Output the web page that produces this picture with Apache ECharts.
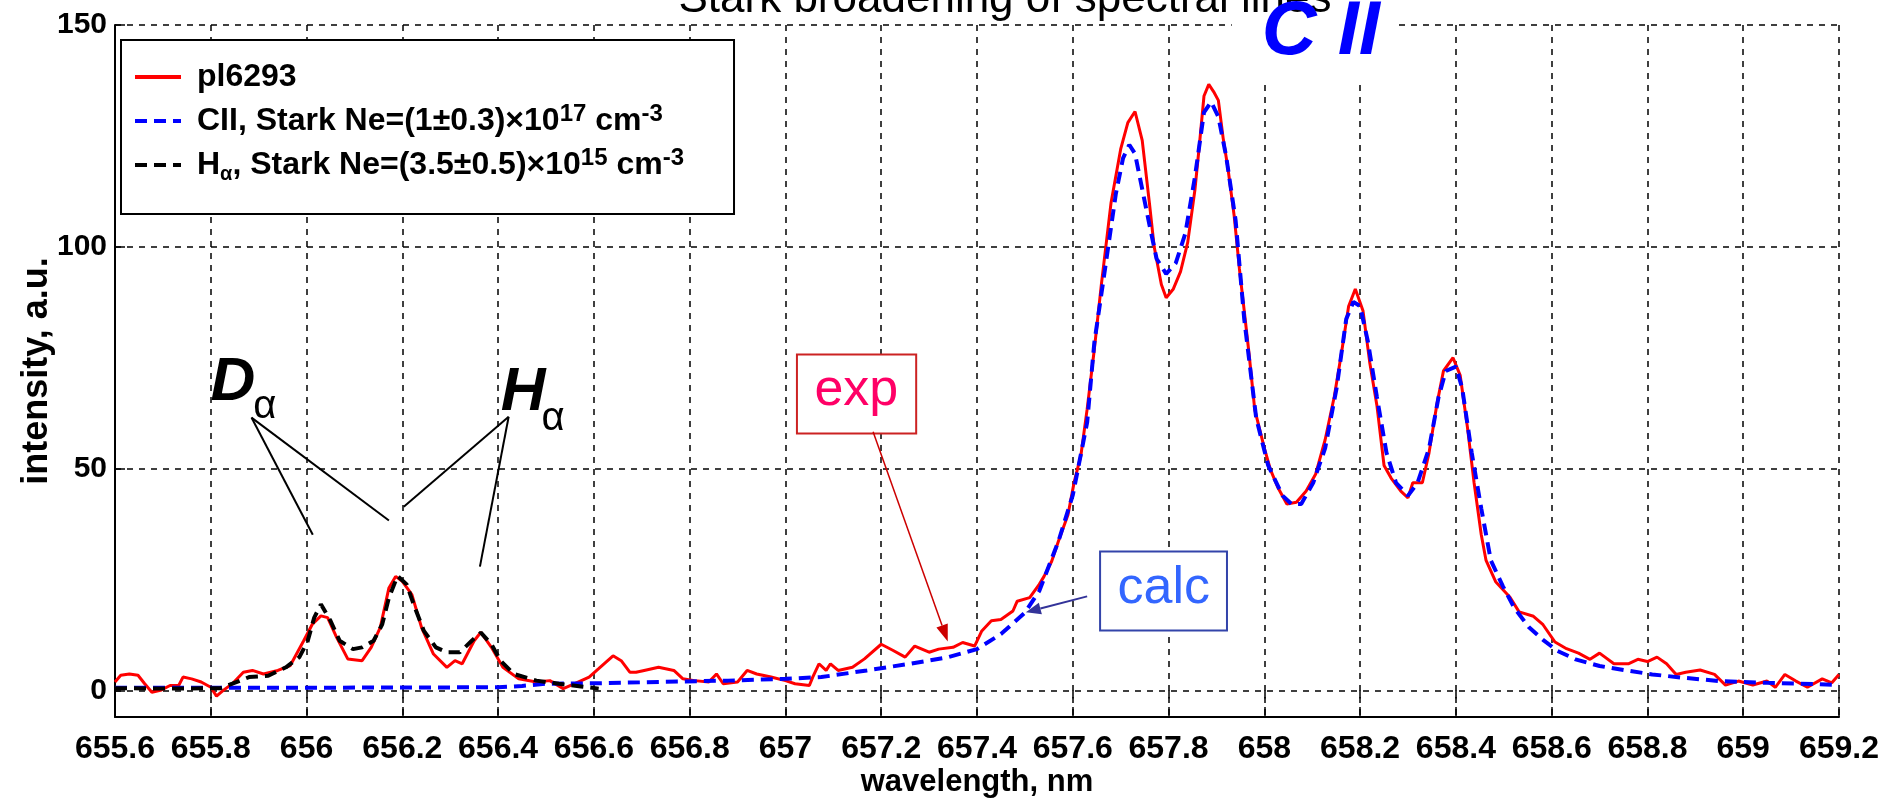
<!DOCTYPE html>
<html>
<head>
<meta charset="utf-8">
<title>Stark broadening of spectral lines</title>
<script src="https://cdn.jsdelivr.net/npm/echarts@6.0.0/dist/echarts.min.js"></script>
<style>
    html, body { margin: 0; padding: 0; background: #fff; }
    #main { width: 1892px; height: 801px; }
</style>
</head>
<body>
<div id="main"></div>
<script type="text/javascript">

    // experimental spectrum pl6293 (red)
    var expWl = [655.600, 655.612, 655.630, 655.648, 655.662, 655.677, 655.695, 655.715, 655.733, 655.742,
        655.760, 655.780, 655.800, 655.812, 655.826, 655.845, 655.868, 655.887, 655.910, 655.940,
        655.966, 655.994, 656.012, 656.030, 656.044, 656.063, 656.086, 656.116, 656.135, 656.154,
        656.172, 656.186, 656.200, 656.220, 656.240, 656.265, 656.293, 656.310, 656.325, 656.350,
        656.364, 656.386, 656.410, 656.443, 656.480, 656.508, 656.536, 656.560, 656.590, 656.610,
        656.640, 656.657, 656.675, 656.688, 656.705, 656.735, 656.767, 656.786, 656.810, 656.840,
        656.856, 656.870, 656.900, 656.920, 656.940, 656.970, 657.000, 657.020, 657.050, 657.057,
        657.070, 657.085, 657.094, 657.110, 657.140, 657.165, 657.200, 657.225, 657.250, 657.270,
        657.300, 657.320, 657.350, 657.370, 657.395, 657.410, 657.430, 657.450, 657.475, 657.484,
        657.510, 657.530, 657.540, 657.556, 657.570, 657.590, 657.603, 657.617, 657.630, 657.645,
        657.660, 657.680, 657.700, 657.715, 657.730, 657.745, 657.760, 657.770, 657.785, 657.795,
        657.810, 657.825, 657.840, 657.855, 657.864, 657.874, 657.884, 657.894, 657.904, 657.914,
        657.924, 657.937, 657.948, 657.958, 657.968, 657.980, 658.000, 658.013, 658.028, 658.047,
        658.067, 658.087, 658.107, 658.127, 658.146, 658.161, 658.176, 658.190, 658.206, 658.220,
        658.235, 658.250, 658.265, 658.285, 658.300, 658.310, 658.330, 658.344, 658.360, 658.374,
        658.394, 658.409, 658.424, 658.438, 658.453, 658.463, 658.483, 658.513, 658.532, 658.562,
        658.582, 658.607, 658.631, 658.656, 658.680, 658.700, 658.730, 658.760, 658.780, 658.800,
        658.820, 658.840, 658.860, 658.880, 658.910, 658.940, 658.963, 658.990, 659.020, 659.050,
        659.067, 659.087, 659.110, 659.134, 659.165, 659.185, 659.200];
    var expVal = [1.9, 3.4, 3.7, 3.4, 1.5, -0.4, 0.0, 1.1, 1.1, 3.0,
        2.6, 1.9, 0.7, -1.3, 0.0, 1.5, 4.1, 4.5, 3.7, 4.5,
        5.6, 11.2, 14.9, 16.8, 16.4, 11.9, 7.1, 6.7, 9.7, 14.2,
        23.1, 25.7, 24.6, 21.6, 14.2, 8.2, 5.2, 6.7, 6.0, 11.2,
        13.1, 9.7, 5.2, 2.6, 1.9, 2.2, 0.4, 1.5, 3.0, 4.9,
        7.8, 6.7, 4.1, 4.1, 4.5, 5.2, 4.5, 2.6, 2.2, 1.9,
        3.7, 1.5, 1.9, 4.5, 3.7, 3.0, 2.2, 1.5, 1.1, 3.0,
        6.0, 4.5, 6.0, 4.5, 5.2, 7.1, 10.4, 9.0, 7.5, 10.0,
        8.6, 9.3, 9.7, 10.8, 10.0, 13.4, 15.7, 16.0, 17.9, 20.1,
        20.9, 23.9, 25.7, 29.1, 33.6, 39.6, 47.0, 53.0, 63.4, 76.9,
        91.8, 110, 122, 128, 130.5, 124, 109.9, 100, 91.5, 88.5,
        90.5, 94.4, 101, 112.8, 122.5, 134, 136.6, 135, 133, 124.5,
        117.7, 107, 95, 85.6, 76, 63.3, 54.6, 49.7, 45.8, 42,
        42.4, 44.9, 48.7, 56.5, 66.2, 76, 86.6, 90.5, 85.6, 74,
        64.3, 50.7, 47.8, 44.9, 43.4, 46.8, 46.8, 53.6, 64.3, 72,
        75, 71, 59.4, 46.8, 35.1, 29.3, 24.5, 21, 17.7, 16.7,
        14.8, 10.9, 9.4, 8.4, 7.0, 8.4, 6.0, 6.0, 7.0, 6.5,
        7.5, 6.0, 3.6, 4.1, 4.6, 3.6, 1.2, 2.1, 1.2, 2.1,
        0.7, 3.6, 2.1, 0.7, 2.6, 1.7, 3.6];

    // CII Stark calculation (blue dashed)
    var ciiWl = [655.600, 656.000, 656.400, 656.450, 656.500, 656.600, 656.740, 656.880, 657.000, 657.075,
        657.170, 657.260, 657.340, 657.400, 657.450, 657.500, 657.530, 657.570, 657.600, 657.630,
        657.645, 657.668, 657.690, 657.705, 657.718, 657.730, 657.745, 657.760, 657.775, 657.795,
        657.815, 657.835, 657.855, 657.874, 657.889, 657.904, 657.920, 657.940, 657.958, 657.983,
        658.008, 658.038, 658.057, 658.077, 658.102, 658.127, 658.151, 658.171, 658.186, 658.200,
        658.216, 658.235, 658.255, 658.275, 658.300, 658.320, 658.344, 658.364, 658.379, 658.400,
        658.413, 658.433, 658.453, 658.473, 658.498, 658.522, 658.552, 658.582, 658.612, 658.650,
        658.700, 658.750, 658.810, 658.870, 658.950, 659.050, 659.150, 659.200];
    var ciiVal = [0.6, 0.6, 0.7, 1.0, 1.5, 1.6, 1.9, 2.2, 2.6, 3.0,
        4.5, 6.0, 7.5, 9.3, 12.7, 17.5, 22.4, 33.6, 44, 60.4,
        78.4, 95.5, 112, 120, 123, 121, 113, 105, 97.3, 93.9,
        96.3, 103, 115.7, 130.3, 132.7, 129.3, 120.6, 106, 83.7, 61.4,
        50.7, 43.9, 42, 42, 46.8, 54.6, 68.2, 83.7, 87.6, 86.6,
        78.8, 66.2, 53.6, 46.8, 43.9, 46.8, 54.6, 66.2, 72, 73,
        68.2, 53.6, 41, 29.3, 23.5, 18.6, 14.3, 11.4, 8.9, 7.0,
        5.5, 4.6, 3.6, 2.9, 2.1, 1.7, 1.4, 1.2];

    // H alpha / D alpha Stark calculation (black dashed)
    var haWl = [655.600, 655.700, 655.820, 655.845, 655.880, 655.920, 655.957, 655.985, 656.002, 656.016,
        656.030, 656.050, 656.069, 656.097, 656.116, 656.140, 656.158, 656.172, 656.190, 656.209,
        656.226, 656.245, 656.270, 656.293, 656.320, 656.345, 656.364, 656.386, 656.405, 656.433,
        656.480, 656.527, 656.573, 656.610];
    var haVal = [0.5, 0.4, 0.5, 1.5, 3.0, 3.3, 5.2, 7.5, 11.0, 16.4,
        19.4, 15.7, 11.2, 9.3, 9.7, 11.2, 14.9, 20.9, 25.8, 23.9,
        18.7, 13.4, 9.7, 8.6, 8.6, 11.2, 13.0, 10.4, 6.7, 3.7,
        2.2, 1.5, 0.9, 0.4];

    var seriesNames = ['pl6293', 'CII, Stark', 'Ha, Stark'];

    var xMin = 655.6, xMax = 659.2, xStep = 0.2;
    var yMin = -6, yMax = 150, yStep = 50;

    var ARIAL = "'Liberation Sans', Arial, sans-serif";

    function pairs(xs, ys) {
        var out = [];
        for (var i = 0; i < xs.length; i++) {
            out.push([xs[i], ys[i]]);
        }
        return out;
    }

    var legendText = {};
    legendText[seriesNames[0]] = '{t|pl6293}';
    legendText[seriesNames[1]] = '{t|CII, Stark Ne=(1\u00b10.3)\u00d710}{sup|17}{t| cm}{sup|-3}';
    legendText[seriesNames[2]] = '{t|H}{sub|\u03b1}{t|, Stark Ne=(3.5\u00b10.5)\u00d710}{sup|15}{t| cm}{sup|-3}';

    var tickFmt = function (v) { return String(Math.round(v * 10) / 10); };

    var myChart = echarts.init(document.getElementById('main'));

    var option = {
        animation: false,
        backgroundColor: '#fff',
        grid: { left: 115, right: 53, top: 25, bottom: 84, containLabel: false, outerBoundsMode: 'none' },
        legend: {
            orient: 'vertical',
            left: 121,
            top: 40,
            padding: [21, 50, 30, 12],
            itemWidth: 46,
            itemHeight: 14,
            itemGap: 9,
            backgroundColor: '#fff',
            borderColor: '#000',
            borderWidth: 2,
            data: seriesNames,
            itemStyle: { opacity: 0 },
            lineStyle: { width: 4 },
            formatter: function (name) { return legendText[name]; },
            textStyle: {
                padding: [0, 0, 0, 11],
                rich: {
                    t: { fontFamily: ARIAL, fontWeight: 'bold', fontSize: 32, lineHeight: 38, color: '#000' },
                    sup: { fontFamily: ARIAL, fontWeight: 'bold', fontSize: 24, lineHeight: 22, verticalAlign: 'top', color: '#000' },
                    sub: { fontFamily: ARIAL, fontWeight: 'bold', fontSize: 20, lineHeight: 16, verticalAlign: 'bottom', color: '#000' }
                }
            }
        },
        xAxis: [{
            type: 'value',
            min: xMin,
            max: xMax,
            interval: xStep,
            name: 'wavelength, nm',
            nameLocation: 'middle',
            nameGap: 50,
            nameMoveOverlap: false,
            nameTextStyle: { fontFamily: ARIAL, fontWeight: 'bold', fontSize: 31, color: '#000' },
            axisLine: { show: true, onZero: false, lineStyle: { color: '#000', width: 2 } },
            axisTick: { show: true, inside: true, length: 10, lineStyle: { color: '#000', width: 1.5 } },
            axisLabel: {
                interval: 0, margin: 16, formatter: tickFmt, showMinLabel: true, showMaxLabel: true,
                fontFamily: ARIAL, fontWeight: 'bold', fontSize: 32, color: '#000'
            },
            splitLine: { show: true, lineStyle: { color: '#000', width: 1.5, type: [6, 6] } }
        }, {
            type: 'value',
            position: 'top',
            min: xMin,
            max: xMax,
            interval: xStep,
            axisLine: { show: false },
            axisTick: { show: true, inside: true, length: 8, lineStyle: { color: '#000', width: 1.5 } },
            axisLabel: { show: false },
            splitLine: { show: false }
        }],
        yAxis: {
            type: 'value',
            min: yMin,
            max: yMax,
            minInterval: yStep,
            maxInterval: yStep,
            name: 'intensity, a.u.',
            nameLocation: 'middle',
            nameGap: 60,
            nameMoveOverlap: false,
            nameTextStyle: { fontFamily: ARIAL, fontWeight: 'bold', fontSize: 36, color: '#000' },
            axisLine: { show: true, onZero: false, lineStyle: { color: '#000', width: 2 } },
            axisTick: { show: true, inside: true, length: 10, lineStyle: { color: '#000', width: 1.5 } },
            axisLabel: {
                showMinLabel: false, margin: 8,
                fontFamily: ARIAL, fontWeight: 'bold', fontSize: 30, color: '#000'
            },
            splitLine: { show: true, lineStyle: { color: '#000', width: 1.5, type: [6, 6] } }
        },
        series: [{
            name: seriesNames[0],
            type: 'line',
            symbol: 'none',
            data: pairs(expWl, expVal),
            lineStyle: { color: '#ff0000', width: 3 },
            itemStyle: { color: '#ff0000' },
            z: 2
        }, {
            name: seriesNames[1],
            type: 'line',
            symbol: 'none',
            data: pairs(ciiWl, ciiVal),
            lineStyle: { color: '#0000ff', width: 4, type: [12, 7] },
            itemStyle: { color: '#0000ff' },
            z: 3
        }, {
            name: seriesNames[2],
            type: 'line',
            symbol: 'none',
            data: pairs(haWl, haVal),
            lineStyle: { color: '#000000', width: 4, type: [12, 7] },
            itemStyle: { color: '#000000' },
            z: 4
        }]
    };

    myChart.setOption(option);

    // annotations, anchored in data coordinates
    function p(x, y) {
        return myChart.convertToPixel({ gridIndex: 0 }, [x, y]);
    }

    function seg(a, b, color, w) {
        return { type: 'line', z: 100, shape: { x1: a[0], y1: a[1], x2: b[0], y2: b[1] }, style: { stroke: color, lineWidth: w } };
    }

    function arrow(a, b, color, w, headLen, headW) {
        var dx = b[0] - a[0], dy = b[1] - a[1];
        var L = Math.sqrt(dx * dx + dy * dy);
        var ux = dx / L, uy = dy / L;
        var base = [b[0] - ux * headLen, b[1] - uy * headLen];
        var l = [base[0] - uy * headW, base[1] + ux * headW];
        var r = [base[0] + uy * headW, base[1] - ux * headW];
        return [seg(a, base, color, w),
            { type: 'polygon', z: 100, shape: { points: [b, l, r] }, style: { fill: color } }];
    }

    function box(x0, y0, x1, y1, color, lw) {
        var a = p(x0, y0), b = p(x1, y1);
        return { type: 'rect', z: 99, shape: { x: a[0], y: a[1], width: b[0] - a[0], height: b[1] - a[1] },
            style: { fill: '#fff', stroke: color, lineWidth: lw } };
    }

    function label(x, y, text, font, color) {
        var c = p(x, y);
        return { type: 'text', z: 101, x: c[0], y: c[1],
            style: { text: text, font: font, fill: color, align: 'center', verticalAlign: 'middle' } };
    }

    var g = [];

    // figure title (its top is cut off in the original)
    g.push({ type: 'text', z: 101, x: 1005, y: 0,
        style: { text: 'Stark broadening of spectral lines', font: 'normal 44px ' + ARIAL, fill: '#000', align: 'center', verticalAlign: 'middle' } });

    // C II label with a white patch over the grid
    g.push(box(657.932, 160, 658.270, 136.7, '#fff', 0));
    g.push(label(658.118, 148.2, 'C II', 'italic bold 76px ' + ARIAL, '#0000ff'));

    // D alpha / H alpha
    g.push(label(655.846, 69.4, 'D', 'italic bold 62px ' + ARIAL, '#000'));
    g.push(label(655.913, 64.0, '\u03b1', 'normal 40px ' + ARIAL, '#000'));
    g.push(label(656.452, 67.1, 'H', 'italic bold 62px ' + ARIAL, '#000'));
    g.push(label(656.515, 61.2, '\u03b1', 'normal 40px ' + ARIAL, '#000'));
    g.push(seg(p(655.885, 61.5), p(656.013, 35.1), '#000', 2));
    g.push(seg(p(655.885, 61.5), p(656.172, 38.3), '#000', 2));
    g.push(seg(p(656.422, 61.7), p(656.203, 41.4), '#000', 2));
    g.push(seg(p(656.422, 61.7), p(656.362, 27.9), '#000', 2));

    // exp box + arrow
    g.push(box(657.024, 75.7, 657.273, 57.9, '#cc2222', 2));
    g.push(label(657.148, 67.5, 'exp', 'normal 52px ' + ARIAL, '#ff0066'));
    g = g.concat(arrow(p(657.183, 58.3), p(657.339, 11.0), '#cc0000', 1.5, 17, 6));

    // calc box + arrow
    g.push(box(657.657, 31.3, 657.922, 13.5, '#3344aa', 2));
    g.push(label(657.790, 23.0, 'calc', 'normal 52px ' + ARIAL, '#3366ff'));
    g = g.concat(arrow(p(657.630, 21.2), p(657.502, 17.6), '#333399', 2, 15, 6));

    myChart.setOption({ graphic: { elements: g } });

</script>
</body>
</html>
